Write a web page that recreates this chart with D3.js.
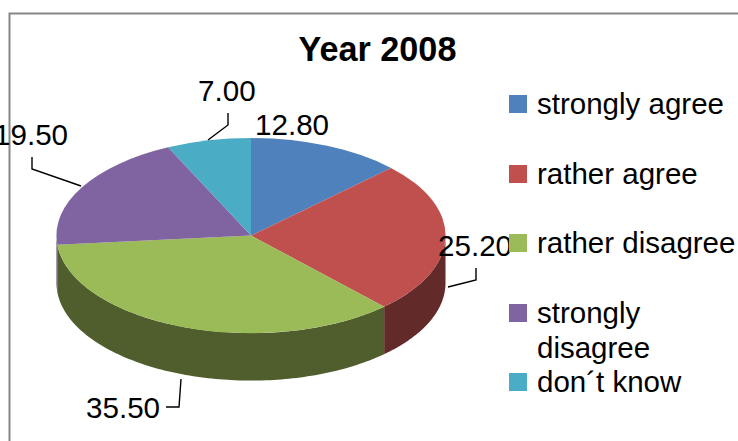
<!DOCTYPE html>
<html>
<head>
<meta charset="utf-8">
<script src="https://d3js.org/d3.v7.min.js"></script>
<style>
html,body{margin:0;padding:0;background:#fff;overflow:hidden}
svg{display:block}
text{font-family:"Liberation Sans",Arial,sans-serif;fill:#000}
</style>
</head>
<body>
<svg id="chart" width="738" height="441"></svg>
<script>
const title = "Year 2008";
const categories = ["strongly agree", "rather agree", "rather disagree", "strongly disagree", "don\u00b4t know"];
const values = [12.8, 25.2, 35.5, 19.5, 7.0];
const valueLabels = ["12.80", "25.20", "35.50", "19.50", "7.00"];
const colors = ["#4f81bd", "#c0504d", "#9bbb59", "#8064a2", "#4bacc6"];
const sideColors = ["#2f4d71", "#622a28", "#4f5e2c", "#4d3c61", "#2d6777"];

// layout (not data)
const cx = 251, cy = 235.6, rx = 194.5, ry = 97.5, depth = 47.5;
const labelAnchors = [[255,135],[438,256],[86,418],[-6,145],[198,101]];
const leaders = [null,
  [[476,268],[476,280],[448,287]],
  [[181,379],[179,407],[166,407]],
  [[32,157],[32,169],[81,186]],
  [[228,113],[228,125],[208,140]]];
const legendRows = [[95,[113.5]],[165,[183.5]],[234,[252.5]],[304,[322.5,357.5]],[373,[391.5]]];
const legendLines = [["strongly agree"],["rather agree"],["rather disagree"],["strongly","disagree"],["don\u00b4t know"]];

const svg = d3.select("#chart");

// frame
svg.append("path").attr("d","M9.5,441V13.5H738").attr("fill","none").attr("stroke","#868686").attr("stroke-width",2);

const px = d3.scaleLinear().domain([-1,1]).range([cx-rx,cx+rx]);
const py = d3.scaleLinear().domain([-1,1]).range([cy-ry,cy+ry]);
const arcs = d3.pie().sort(null).value(d=>d)(values);

// walls: only the front half of the rim is visible
const wall = d3.area().x(a=>px(Math.sin(a))).y0(a=>py(-Math.cos(a))).y1(a=>py(-Math.cos(a))+depth);
const gWalls = svg.append("g");
arcs.forEach((d,i)=>{
  const a0 = Math.max(d.startAngle, Math.PI/2), a1 = Math.min(d.endAngle, Math.PI*1.5);
  if (a1 <= a0) return;
  const n = Math.max(2, Math.ceil((a1-a0)/0.02));
  gWalls.append("path").attr("d", wall(d3.range(n+1).map(k=>a0+(a1-a0)*k/n))).attr("fill", sideColors[i]);
});

// top face
const arc = d3.arc().innerRadius(0).outerRadius(1);
svg.append("g").attr("transform",`translate(${cx},${cy}) scale(${rx},${ry})`)
  .selectAll("path").data(arcs).join("path")
  .attr("d",arc).attr("fill",(d,i)=>colors[i]);

// leader lines
const line = d3.line();
svg.append("g").selectAll("path").data(leaders.filter(Boolean)).join("path")
  .attr("d",line).attr("fill","none").attr("stroke","#000").attr("stroke-width",1.4);

// value labels
svg.append("g").selectAll("text").data(valueLabels).join("text")
  .attr("x",(d,i)=>labelAnchors[i][0]).attr("y",(d,i)=>labelAnchors[i][1])
  .attr("font-size",29.6).text(d=>d);

// title
svg.append("text").attr("x",377.5).attr("y",60.5).attr("text-anchor","middle")
  .attr("font-size",34.2).attr("font-weight","bold").text(title);

// legend
const lg = svg.append("g");
categories.forEach((c,i)=>{
  lg.append("rect").attr("x",509).attr("y",legendRows[i][0]).attr("width",18).attr("height",18).attr("fill",colors[i]);
  legendLines[i].forEach((t,k)=>{
    lg.append("text").attr("x",537).attr("y",legendRows[i][1][k]).attr("font-size",29.5).text(t);
  });
});
</script>
</body>
</html>
